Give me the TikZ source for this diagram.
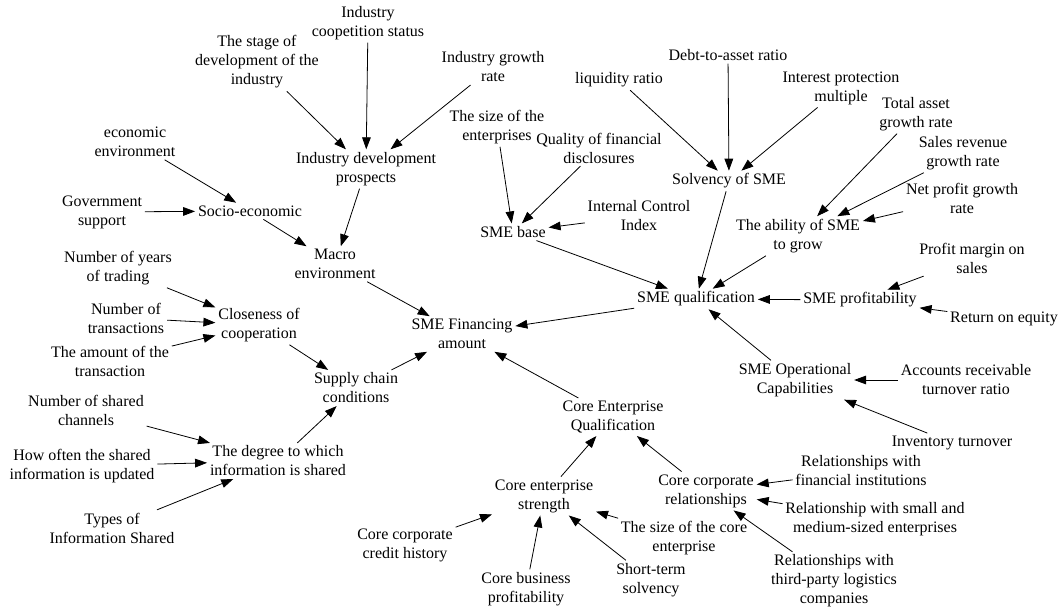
\documentclass[tikz,border=0pt]{standalone}
\usepackage{fontspec}
\setmainfont{Liberation Serif}
\usetikzlibrary{arrows.meta}
\tikzstyle{factor} = [align=center,inner sep=2pt,font=\fontsize{12}{14.25}\selectfont]
\tikzstyle{link} = [draw,line width=0.6pt,-{Triangle[length=9pt,width=6.5pt]}]

\begin{document}
\begin{tikzpicture}[x=0.75pt,y=-0.75pt]
   \useasboundingbox (0,0) rectangle (1064,610);
   % macro environment
   \node[factor] (stage)  at (257,62)  {The stage of\\development of the\\industry};
   \node[factor] (coop)   at (368,23)  {Industry\\coopetition status};
   \node[factor] (growth) at (493,67)  {Industry growth\\rate};
   \node[factor] (idp)    at (366,169) {Industry development\\prospects};
   \node[factor] (econ)   at (135,142) {economic\\environment};
   \node[factor] (gov)    at (102,212) {Government\\support};
   \node[factor] (socio)  at (250,211) {Socio-economic};
   \node[factor] (macro)  at (335,264) {Macro\\environment};
   % supply chain
   \node[factor] (years)   at (118,268) {Number of years\\of trading};
   \node[factor] (ntrans)  at (126,318) {Number of\\transactions};
   \node[factor] (amount)  at (110,361) {The amount of the\\transaction};
   \node[factor] (close)   at (259,325) {Closeness of\\cooperation};
   \node[factor] (supply)  at (356,388) {Supply chain\\conditions};
   \node[factor] (nshared) at (86,410)  {Number of shared\\channels};
   \node[factor] (often)   at (82,466)  {How often the shared\\information is updated};
   \node[factor] (degree)  at (278,461) {The degree to which\\information is shared};
   \node[factor] (types)   at (112,528) {Types of\\Information Shared};
   \node[factor] (fin)     at (462,334) {SME Financing\\amount};
   % SME qualification
   \node[factor] (size)    at (497,127) {The size of the\\enterprises};
   \node[factor] (qfd)     at (599,148) {Quality of financial\\disclosures};
   \node[factor] (smebase) at (513,232) {SME base};
   \node[factor] (icx)     at (639,216) {Internal Control\\Index};
   \node[factor] (liq)     at (619,80)  {liquidity ratio};
   \node[factor] (debt)    at (728,55)  {Debt-to-asset ratio};
   \node[factor] (ipm)     at (841,88)  {Interest protection\\multiple};
   \node[factor] (solv)    at (729,181) {Solvency of SME};
   \node[factor] (tagr)    at (916,114) {Total asset\\growth rate};
   \node[factor] (srgr)    at (963,153) {Sales revenue\\growth rate};
   \node[factor] (npgr)    at (962,198) {Net profit growth\\rate};
   \node[factor] (grow)    at (798,236) {The ability of SME\\to grow};
   \node[factor] (smeq)    at (696,299) {SME qualification};
   \node[factor] (prof)    at (860,300) {SME profitability};
   \node[factor] (pms)     at (972,258) {Profit margin on\\sales};
   \node[factor] (roe)     at (1004,319) {Return on equity};
   \node[factor] (ops)     at (795,380) {SME Operational\\Capabilities};
   \node[factor] (arto)    at (966,380) {Accounts receivable\\turnover ratio};
   \node[factor] (inv)     at (952,443) {Inventory turnover};
   % core enterprise
   \node[factor] (ceq)      at (613,417) {Core Enterprise\\Qualification};
   \node[factor] (ccr)      at (706,491) {Core corporate\\relationships};
   \node[factor] (rfi)      at (861,471) {Relationships with\\financial institutions};
   \node[factor] (rsm)      at (875,519) {Relationship with small and\\medium-sized enterprises};
   \node[factor] (r3pl)     at (834,581) {Relationships with\\third-party logistics\\companies};
   \node[factor] (ces)      at (544,496) {Core enterprise\\strength};
   \node[factor] (sizecore) at (684,538) {The size of the core\\enterprise};
   \node[factor] (stsolv)   at (651,580) {Short-term\\solvency};
   \node[factor] (cbp)      at (526,589) {Core business\\profitability};
   \node[factor] (cch)      at (405,545) {Core corporate\\credit history};

   \path[link] (stage) edge (idp);
   \path[link] (coop) edge (idp);
   \path[link] (growth) edge (idp);
   \path[link] (idp) edge (macro);
   \path[link] (econ) edge (socio);
   \path[link] (gov) edge (socio);
   \path[link] (socio) edge (macro);
   \path[link] (macro) edge (fin);
   \path[link] (years) edge (close);
   \path[link] (ntrans) edge (close);
   \path[link] (amount) edge (close);
   \path[link] (close) edge (supply);
   \path[link] (nshared) edge (degree);
   \path[link] (often) edge (degree);
   \path[link] (types) edge (degree);
   \path[link] (degree) edge (supply);
   \path[link] (supply) edge (fin);
   \path[link] (smeq) edge (fin);
   \path[link] (ceq) edge (fin);
   \path[link] (size) edge (smebase);
   \path[link] (qfd) edge (smebase);
   \path[link] (icx) edge (smebase);
   \path[link] (smebase) edge (smeq);
   \path[link] (liq) edge (solv);
   \path[link] (debt) edge (solv);
   \path[link] (ipm) edge (solv);
   \path[link] (solv) edge (smeq);
   \path[link] (tagr) edge (grow);
   \path[link] (srgr) edge (grow);
   \path[link] (npgr) edge (grow);
   \path[link] (grow) edge (smeq);
   \path[link] (pms) edge (prof);
   \path[link] (roe) edge (prof);
   \path[link] (prof) edge (smeq);
   \path[link] (ops) edge (smeq);
   \path[link] (arto) edge (ops);
   \path[link] (inv) edge (ops);
   \path[link] (ces) edge (ceq);
   \path[link] (ccr) edge (ceq);
   \path[link] (rfi) edge (ccr);
   \path[link] (rsm) edge (ccr);
   \path[link] (r3pl) edge (ccr);
   \path[link] (cch) edge (ces);
   \path[link] (cbp) edge (ces);
   \path[link] (sizecore) edge (ces);
   \path[link] (stsolv) edge (ces);
\end{tikzpicture}
\end{document}
